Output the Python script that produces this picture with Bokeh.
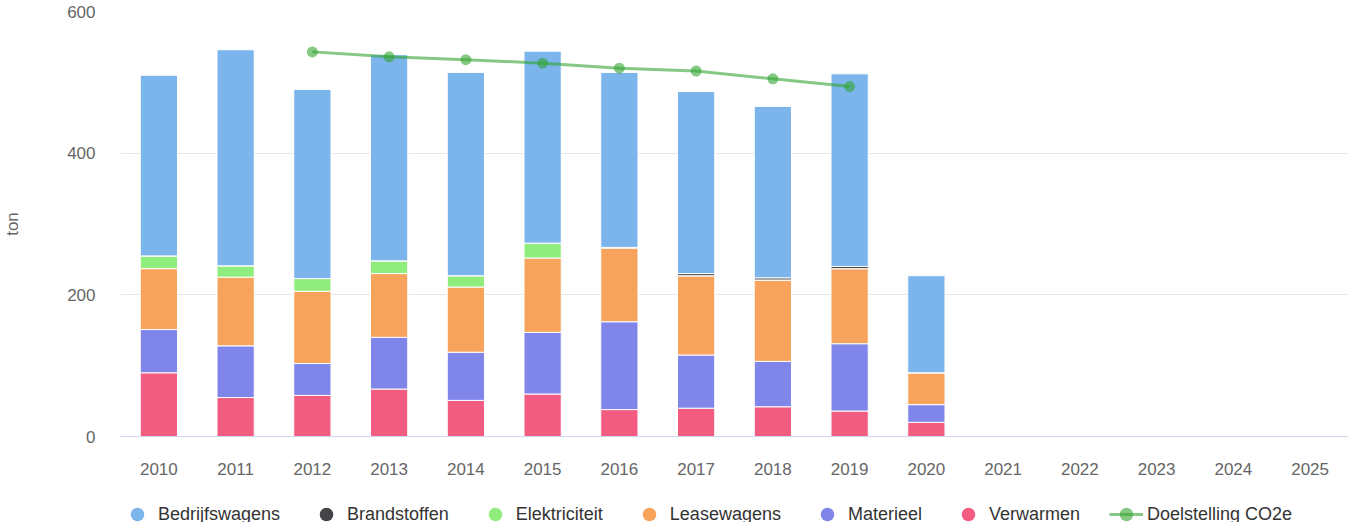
from bokeh.plotting import figure
from bokeh.layouts import column
from bokeh.models import ColumnDataSource, FactorRange, Range1d, Legend, LegendItem, FixedTicker
from bokeh.embed import file_html
from bokeh.resources import INLINE

# ---- data ----
years = [str(y) for y in range(2010, 2026)]
bar_years = [str(y) for y in range(2010, 2021)]
bedrijfswagens = [255, 305, 267, 291, 287, 271, 247, 257, 242, 272, 137]
brandstoffen = [0, 0, 0, 0, 0, 0, 0, 3, 3, 3, 0]
elektriciteit = [18, 16, 18, 18, 16, 21, 1, 0, 0, 0, 0]
leasewagens = [86, 97, 102, 90, 92, 105, 104, 112, 115, 106, 45]
materieel = [61, 73, 45, 73, 68, 87, 124, 75, 64, 95, 25]
verwarmen = [90, 55, 58, 67, 51, 60, 38, 40, 42, 36, 20]
target_years = ["2012", "2013", "2014", "2015", "2016", "2017", "2018", "2019"]
target_values = [543, 536, 532, 527, 520, 516, 505, 494]
y_ticks = [0, 200, 400, 600]

series_names = ["Bedrijfswagens", "Brandstoffen", "Elektriciteit", "Leasewagens", "Materieel", "Verwarmen"]
series_colors = ["#7cb5ec", "#434348", "#90ed7d", "#f7a35c", "#8085e9", "#f15c80"]
target_name = "Doelstelling CO2e"
target_color = "#33a532"

FONT = "Liberation Sans"

source = ColumnDataSource(dict(
    year=bar_years,
    Bedrijfswagens=bedrijfswagens,
    Brandstoffen=brandstoffen,
    Elektriciteit=elektriciteit,
    Leasewagens=leasewagens,
    Materieel=materieel,
    Verwarmen=verwarmen,
))

p = figure(
    width=1351, height=482,
    x_range=FactorRange(*years, range_padding=0),
    y_range=Range1d(0, 600),
    output_backend="svg", toolbar_location=None,
    min_border_left=119, min_border_right=3, min_border_top=11, min_border_bottom=46,
)
p.outline_line_color = None
p.background_fill_color = "white"
p.border_fill_color = "white"

# stacked bars, bottom to top
stack_order = ["Verwarmen", "Materieel", "Leasewagens", "Elektriciteit", "Brandstoffen", "Bedrijfswagens"]
color_map = dict(zip(series_names, series_colors))
p.vbar_stack(stack_order, x="year", width=0.485, source=source,
             color=[color_map[s] for s in stack_order],
             line_color="white", line_width=1)

# target line
line_r = p.line(target_years, target_values, line_color=target_color, line_width=3, line_alpha=0.6)
pts_r = p.scatter(target_years, target_values, marker="circle", size=11,
                  fill_color=target_color, fill_alpha=0.6, line_color=None)

# axes
p.xgrid.grid_line_color = None
p.ygrid.grid_line_color = "#e6e6e6"
p.ygrid.grid_line_width = 1

xa = p.xaxis[0]
xa.axis_line_color = "#ccd6eb"
xa.axis_line_width = 1
xa.major_tick_line_color = None
xa.minor_tick_line_color = None
xa.major_tick_out = 0
xa.major_label_standoff = 26
xa.major_label_text_font = FONT
xa.major_label_text_font_size = "17px"
xa.major_label_text_color = "#666666"

ya = p.yaxis[0]
ya.ticker = FixedTicker(ticks=y_ticks)
ya.axis_line_color = None
ya.major_tick_line_color = None
ya.minor_tick_line_color = None
ya.major_tick_out = 0
ya.major_label_standoff = 25
ya.major_label_text_font = FONT
ya.major_label_text_font_size = "17px"
ya.major_label_text_color = "#666666"
ya.axis_label = "ton"
ya.axis_label_standoff = 42
ya.axis_label_text_font = FONT
ya.axis_label_text_font_size = "17px"
ya.axis_label_text_font_style = "normal"
ya.axis_label_text_color = "#666666"

# ---- legend strip (separate figure below the chart) ----
lg = figure(
    width=1351, height=40,
    x_range=Range1d(0, 1), y_range=Range1d(0, 1),
    output_backend="svg", toolbar_location=None,
    x_axis_location=None, y_axis_location=None,
    min_border_left=0, min_border_right=0, min_border_top=0, min_border_bottom=0,
)
lg.grid.visible = False
lg.outline_line_color = None
lg.border_fill_color = "white"

items = []
for name, col in zip(series_names, series_colors):
    r = lg.scatter(x=[0], y=[0], marker="circle", size=0, fill_color=col, line_color=None)
    items.append(LegendItem(label=name, renderers=[r]))
lr = lg.line(x=[0, 0], y=[0, 0], line_color=target_color, line_width=3, line_alpha=0.6)
ls = lg.scatter(x=[0], y=[0], marker="circle", size=0, fill_color=target_color, fill_alpha=0.6, line_color=None)
items.append(LegendItem(label=target_name, renderers=[lr, ls]))

legend = Legend(items=items, orientation="horizontal", location=(0, -9),
                glyph_width=34, glyph_height=34, label_standoff=4, spacing=29,
                padding=0, margin=0, border_line_color=None, background_fill_alpha=0,
                label_text_font=FONT, label_text_font_size="18px", label_text_color="#333333")
lg.add_layout(legend, "center")

layout = column(p, lg, spacing=0)
open("out.html", "w").write(file_html(layout, INLINE))
